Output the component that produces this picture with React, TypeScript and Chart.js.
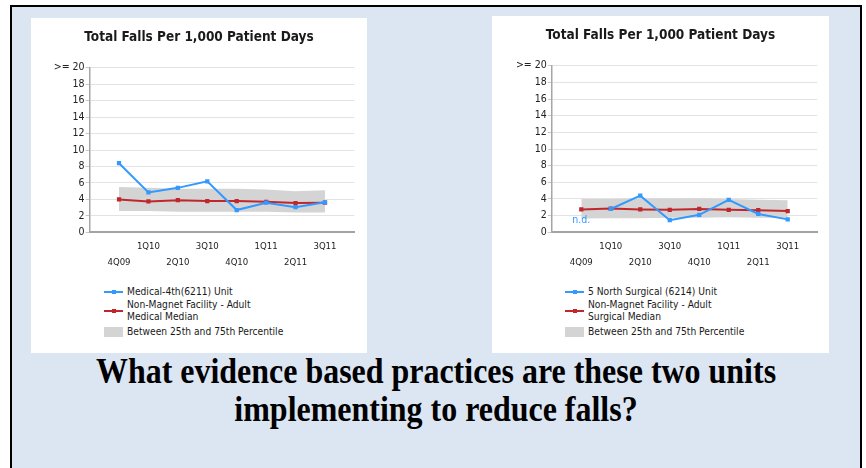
import React, { useEffect, useRef } from 'react';
import { Chart, registerables } from 'chart.js';

Chart.register(...registerables);

const quarters = ['4Q09', '1Q10', '2Q10', '3Q10', '4Q10', '1Q11', '2Q11', '3Q11'];
const yMin = 0;
const yMax = 20;
const yStep = 2;
const topTickLabel = '>= 20';
const chartTitle = 'Total Falls Per 1,000 Patient Days';
const bandLabel = 'Between 25th and 75th Percentile';
const noDataText = 'n.d.';
const noDataLabelY = 1.4;

const medicalUnit = [8.4, 4.85, 5.4, 6.2, 2.7, 3.6, 3.05, 3.65];
const medicalMedian = [4.0, 3.75, 3.9, 3.8, 3.8, 3.7, 3.55, 3.6];
const medicalP25 = [2.6, 2.6, 2.5, 2.5, 2.5, 2.5, 2.4, 2.4];
const medicalP75 = [5.5, 5.4, 5.3, 5.3, 5.3, 5.2, 5.0, 5.1];

const surgicalUnit = [null, 2.8, 4.4, 1.45, 2.1, 3.9, 2.2, 1.55];
const surgicalMedian = [2.75, 2.85, 2.75, 2.7, 2.8, 2.7, 2.65, 2.55];
const surgicalP25 = [1.65, 1.7, 1.7, 1.75, 1.75, 1.8, 1.75, 1.75];
const surgicalP75 = [4.0, 4.0, 4.05, 4.05, 4.1, 4.0, 3.9, 3.85];

const FONT = "'DejaVu Sans Condensed', 'DejaVu Sans', Verdana, sans-serif";
const BLUE = '#3399ff';
const RED = '#c0272d';
const BAND = '#d4d4d4';
const CANVAS_H = 262;

type PanelCfg = {
  left: number;
  top: number;
  width: number;
  height: number;
  plotLeft: number;
  plotRight: number;
  plotTop: number;
  plotBottom: number;
  titleY: number;
  legendTop: number;
  unitLabel: string;
  medianLabel: string[];
  unit: (number | null)[];
  median: number[];
  p25: number[];
  p75: number[];
};

const panels: PanelCfg[] = [
  {
    left: 31, top: 18, width: 336, height: 335,
    plotLeft: 58.6, plotRight: 323.4, plotTop: 49.7, plotBottom: 214.3,
    titleY: 19.5,
    legendTop: 0,
    unitLabel: 'Medical-4th(6211) Unit',
    medianLabel: ['Non-Magnet Facility - Adult', 'Medical Median'],
    unit: medicalUnit, median: medicalMedian, p25: medicalP25, p75: medicalP75,
  },
  {
    left: 492, top: 16, width: 337, height: 337,
    plotLeft: 59.8, plotRight: 325.2, plotTop: 49.7, plotBottom: 216.3,
    titleY: 19.8,
    legendTop: 1.5,
    unitLabel: '5 North Surgical (6214) Unit',
    medianLabel: ['Non-Magnet Facility - Adult', 'Surgical Median'],
    unit: surgicalUnit, median: surgicalMedian, p25: surgicalP25, p75: surgicalP75,
  },
];

function FallsChart({ cfg }: { cfg: PanelCfg }) {
  const ref = useRef<HTMLCanvasElement>(null);
  useEffect(() => {
    if (!ref.current) return;
    const labels = ['', ...quarters, ''];
    const pad = (a: (number | null)[]) => [null, ...a, null];
    const extras = {
      id: 'extras',
      afterDatasetsDraw(chart: any) {
        const data = chart.data.datasets[0].data;
        const xs = chart.scales.x;
        const ys = chart.scales.y;
        const ctx = chart.ctx;
        ctx.save();
        ctx.fillStyle = BLUE;
        ctx.font = `10.5px ${FONT}`;
        ctx.textAlign = 'center';
        ctx.textBaseline = 'middle';
        for (let i = 1; i < data.length - 1; i++) {
          if (data[i] == null) {
            ctx.fillText(noDataText, xs.getPixelForValue(i), ys.getPixelForValue(noDataLabelY));
          }
        }
        ctx.restore();
      },
      afterDraw(chart: any) {
        const ctx = chart.ctx;
        ctx.save();
        ctx.fillStyle = '#1a1a1a';
        ctx.font = `bold 13.5px ${FONT}`;
        ctx.textAlign = 'center';
        ctx.textBaseline = 'middle';
        ctx.fillText(chartTitle, chart.width / 2, cfg.titleY);
        ctx.restore();
      },
    };
    const chart = new Chart(ref.current, {
      type: 'line',
      data: {
        labels,
        datasets: [
          {
            label: cfg.unitLabel,
            data: pad(cfg.unit),
            borderColor: BLUE,
            backgroundColor: BLUE,
            borderWidth: 2,
            pointStyle: 'rect',
            pointRadius: 3,
            pointBorderWidth: 0,
            pointBackgroundColor: BLUE,
            tension: 0,
            fill: false,
            order: 0,
          },
          {
            label: cfg.medianLabel.join(' '),
            data: pad(cfg.median),
            borderColor: RED,
            backgroundColor: RED,
            borderWidth: 2,
            pointStyle: 'rect',
            pointRadius: 3,
            pointBorderWidth: 0,
            pointBackgroundColor: RED,
            tension: 0,
            fill: false,
            order: 1,
          },
          {
            label: bandLabel,
            data: pad(cfg.p75),
            borderWidth: 0,
            borderColor: 'rgba(0,0,0,0)',
            backgroundColor: BAND,
            pointRadius: 0,
            tension: 0,
            fill: '+1',
            order: 2,
          },
          {
            label: 'p25',
            data: pad(cfg.p25),
            borderWidth: 0,
            borderColor: 'rgba(0,0,0,0)',
            pointRadius: 0,
            tension: 0,
            fill: false,
            order: 3,
          },
        ],
      },
      options: {
        animation: false,
        responsive: false,
        maintainAspectRatio: false,
        layout: { padding: { left: 0, right: cfg.width - cfg.plotRight, top: cfg.plotTop, bottom: 0 } },
        plugins: {
          legend: { display: false },
          tooltip: { enabled: false },
          title: { display: false },
        },
        scales: {
          x: {
            type: 'category',
            offset: false,
            grid: { display: false, drawTicks: false, tickLength: 0 },
            border: { display: true, color: '#a3a3a3', width: 2 },
            ticks: {
              autoSkip: false,
              maxRotation: 0,
              minRotation: 0,
              padding: 6,
              color: '#222',
              font: { family: FONT, size: 9.5, lineHeight: 16 / 9.5 },
              callback: (_v: any, i: number) => {
                const l = labels[i];
                if (!l) return '';
                return (i - 1) % 2 === 0 ? ['', l] : l;
              },
            },
            afterFit: (s: any) => {
              s.height = CANVAS_H - cfg.plotBottom;
            },
          },
          y: {
            min: yMin,
            max: yMax,
            grid: { color: '#e3e3e3', lineWidth: 1, drawTicks: true, tickLength: 4, tickColor: '#c8c8c8' },
            border: { display: true, color: '#a6a6a6', width: 1.5 },
            ticks: {
              stepSize: yStep,
              padding: 1,
              color: '#222',
              font: { family: FONT, size: 10.5 },
              callback: (v: any) => (v === yMax ? topTickLabel : String(v)),
            },
            afterFit: (s: any) => {
              s.width = cfg.plotLeft;
            },
          },
        },
      },
      plugins: [extras],
    } as any);
    return () => chart.destroy();
  }, [cfg]);

  const lt = cfg.legendTop;
  const textStyle: React.CSSProperties = {
    position: 'absolute',
    left: 96,
    fontFamily: FONT,
    fontSize: 10.2,
    lineHeight: '12px',
    color: '#1a1a1a',
    whiteSpace: 'nowrap',
  };
  const lineSym = (color: string, cy: number) => (
    <div style={{ position: 'absolute', left: 73, top: cy - 1, width: 19, height: 2, background: color }}>
      <div style={{ position: 'absolute', left: 7.5, top: -1, width: 4, height: 4, background: color }} />
    </div>
  );
  return (
    <div
      style={{
        position: 'absolute',
        left: cfg.left,
        top: cfg.top,
        width: cfg.width,
        height: cfg.height,
        background: '#ffffff',
      }}
    >
      <canvas
        ref={ref}
        width={cfg.width}
        height={CANVAS_H}
        style={{ position: 'absolute', left: 0, top: 0, width: cfg.width, height: CANVAS_H }}
      />
      {lineSym(BLUE, 274 + lt)}
      <div style={{ ...textStyle, top: 274 + lt - 6 }}>{cfg.unitLabel}</div>
      {lineSym(RED, 293 + lt)}
      <div style={{ ...textStyle, top: 287 + lt - 6 }}>
        {cfg.medianLabel[0]}
        <br />
        {cfg.medianLabel[1]}
      </div>
      <div style={{ position: 'absolute', left: 73, top: 309 + lt, width: 19, height: 10, background: BAND }} />
      <div style={{ ...textStyle, top: 314 + lt - 6 }}>{bandLabel}</div>
    </div>
  );
}

export default function App() {
  return (
    <div style={{ position: 'absolute', left: 0, top: 0, width: 866, height: 468, overflow: 'hidden', background: '#ffffff' }}>
      <div
        style={{
          position: 'absolute',
          left: 10,
          top: 5,
          width: 848,
          height: 480,
          border: '2px solid #000',
          background: '#dce6f2',
        }}
      />
      {panels.map((p, i) => (
        <FallsChart key={i} cfg={p} />
      ))}
      <div
        style={{
          position: 'absolute',
          left: 12,
          top: 353,
          width: 848,
          textAlign: 'center',
          fontFamily: "'Liberation Serif', 'Times New Roman', serif",
          fontWeight: 'bold',
          fontSize: 35,
          lineHeight: '38px',
          color: '#000',
        }}
      >
        <div style={{ transform: 'scaleX(0.913)', transformOrigin: 'center' }}>
          What evidence based practices are these two units
          <br />
          implementing to reduce falls?
        </div>
      </div>
    </div>
  );
}
